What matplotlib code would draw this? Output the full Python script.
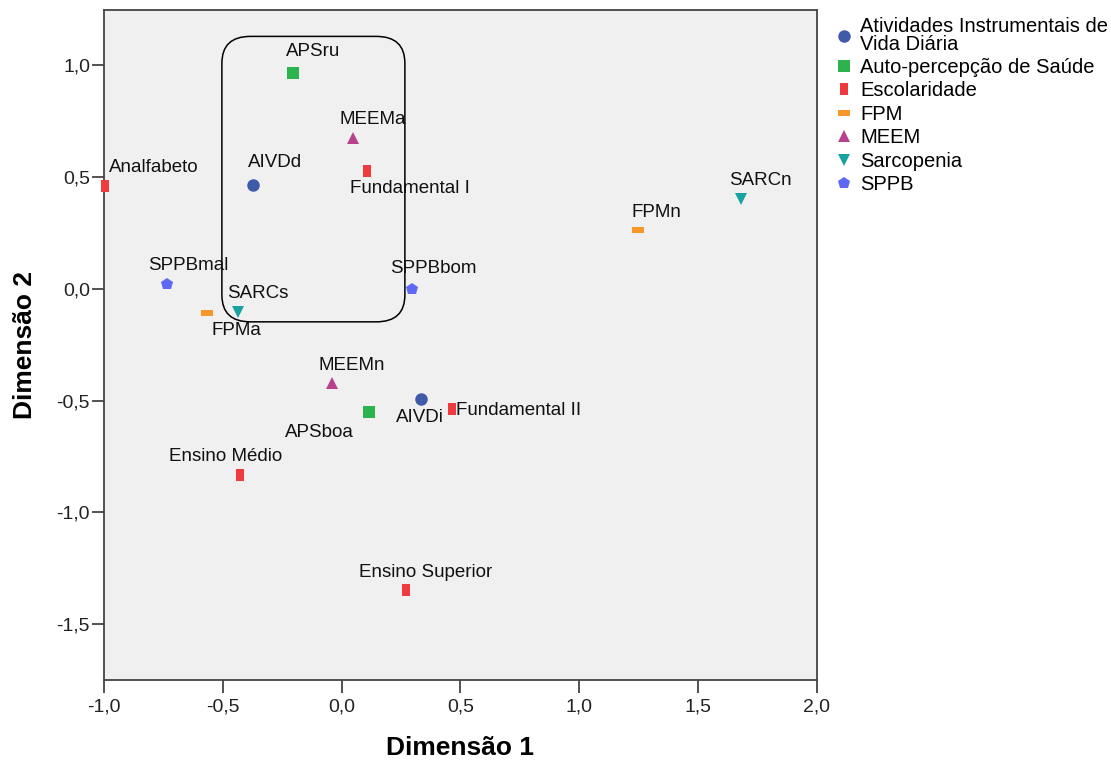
import matplotlib
matplotlib.use("Agg")
import matplotlib.pyplot as plt
from matplotlib.patches import FancyBboxPatch
from matplotlib.ticker import FuncFormatter
from matplotlib.lines import Line2D
import numpy as np

plt.rcParams['font.family'] = ['Liberation Sans', 'DejaVu Sans']

# Data
groups = ["Atividades Instrumentais de\nVida Diária", "Auto-percepção de Saúde",
          "Escolaridade", "FPM", "MEEM", "Sarcopenia", "SPPB"]
aivd_labels = ["AIVDd", "AIVDi"]
aivd_x = [-0.373, 0.334]
aivd_y = [0.465, -0.492]
aps_labels = ["APSru", "APSboa"]
aps_x = [-0.205, 0.115]
aps_y = [0.966, -0.550]
esc_labels = ["Analfabeto", "Fundamental I", "Fundamental II", "Ensino Médio", "Ensino Superior"]
esc_x = [-0.994, 0.106, 0.464, -0.428, 0.270]
esc_y = [0.460, 0.528, -0.537, -0.832, -1.347]
fpm_labels = ["FPMn", "FPMa"]
fpm_x = [1.247, -0.567]
fpm_y = [0.264, -0.107]
meem_labels = ["MEEMa", "MEEMn"]
meem_x = [0.048, -0.041]
meem_y = [0.676, -0.420]
sarc_labels = ["SARCn", "SARCs"]
sarc_x = [1.680, -0.436]
sarc_y = [0.403, -0.103]
sppb_labels = ["SPPBmal", "SPPBbom"]
sppb_x = [-0.735, 0.296]
sppb_y = [0.022, 0.000]

xticks = [-1.0, -0.5, 0.0, 0.5, 1.0, 1.5, 2.0]
yticks = [-1.5, -1.0, -0.5, 0.0, 0.5, 1.0]

# label offsets (pixels: dx right, dy up) for text centers
offsets = {
    "AIVDd": (22, 22), "AIVDi": (-1, -19),
    "APSru": (20, 21), "APSboa": (-50, -21),
    "Analfabeto": (48, 18), "Fundamental I": (43, -18), "Fundamental II": (67, -2),
    "Ensino Médio": (-14, 18), "Ensino Superior": (20, 18),
    "FPMn": (18, 17), "FPMa": (30, -18),
    "MEEMa": (20, 18), "MEEMn": (20, 17),
    "SARCn": (19, 18), "SARCs": (20, 18),
    "SPPBmal": (21, 18), "SPPBbom": (21, 20),
}

vbar = [(-0.28, -0.5), (0.28, -0.5), (0.28, 0.5), (-0.28, 0.5), (-0.28, -0.5)]
hbar = [(-0.5, -0.22), (0.5, -0.22), (0.5, 0.22), (-0.5, 0.22), (-0.5, -0.22)]

series = [
    (aivd_labels, aivd_x, aivd_y, 'o', '#3f5aa8', 9),
    (aps_labels, aps_x, aps_y, 's', '#2db34d', 8.5),
    (esc_labels, esc_x, esc_y, vbar, '#ef3b3e', 9),
    (fpm_labels, fpm_x, fpm_y, hbar, '#f7962a', 9),
    (meem_labels, meem_x, meem_y, '^', '#b8418d', 8),
    (sarc_labels, sarc_x, sarc_y, 'v', '#19a2a2', 8),
    (sppb_labels, sppb_x, sppb_y, 'p', '#5e68f5', 9),
]

fig = plt.figure(figsize=(11.11, 7.60), dpi=100)
ax = fig.add_axes([104/1111, 1-680/760, (817-104)/1111, (680-10)/760])
ax.set_facecolor('#f0f0f0')
ax.set_xlim(-1.0, 2.0)
ax.set_ylim(-1.749, 1.246)

handles = []
for (labs, xs, ys, mk, col, ms), gname in zip(series, groups):
    ax.plot(xs, ys, linestyle='none', marker=mk, color=col, markersize=ms,
            markeredgewidth=0, zorder=3, clip_on=False)
    handles.append(Line2D([], [], linestyle='none', marker=mk, color=col,
                          markersize=ms, markeredgewidth=0, label=gname))
    for lab, x, y in zip(labs, xs, ys):
        dx, dy = offsets[lab]
        ax.annotate(lab, (x, y), xytext=(dx * 0.72, dy * 0.72), textcoords='offset points',
                    ha='center', va='center', fontsize=13.5, color='#111111', zorder=4)

box = FancyBboxPatch((-0.504, -0.148), 0.770, 1.276,
                     boxstyle="round,pad=0,rounding_size=0.12",
                     facecolor='none', edgecolor='black', linewidth=1.1, zorder=2)
ax.add_patch(box)

fmt = FuncFormatter(lambda v, p: f"{v:.1f}".replace('.', ','))
ax.set_xticks(xticks)
ax.set_yticks(yticks)
ax.xaxis.set_major_formatter(fmt)
ax.yaxis.set_major_formatter(fmt)
ax.tick_params(axis='both', direction='out', length=9, width=1.3, color='#444444',
               labelsize=14, labelcolor='#222222')
ax.tick_params(axis='x', pad=4)
ax.tick_params(axis='y', pad=1)
for s in ax.spines.values():
    s.set_color('#444444')
    s.set_linewidth(1.3)

ax.set_xlabel("Dimensão 1", fontsize=19, fontweight='bold', labelpad=15)
ax.set_ylabel("Dimensão 2", fontsize=19, fontweight='bold', labelpad=14)

leg = fig.legend(handles=handles, loc='upper left', bbox_to_anchor=(837/1111, 1-17/760),
                 frameon=False, fontsize=14.5, handlelength=0.7, handletextpad=0.45,
                 labelspacing=0.22, borderaxespad=0, borderpad=0)
for t in leg.get_texts():
    t.set_linespacing(0.9)

fig.savefig("out.png", dpi=100, facecolor='white')
